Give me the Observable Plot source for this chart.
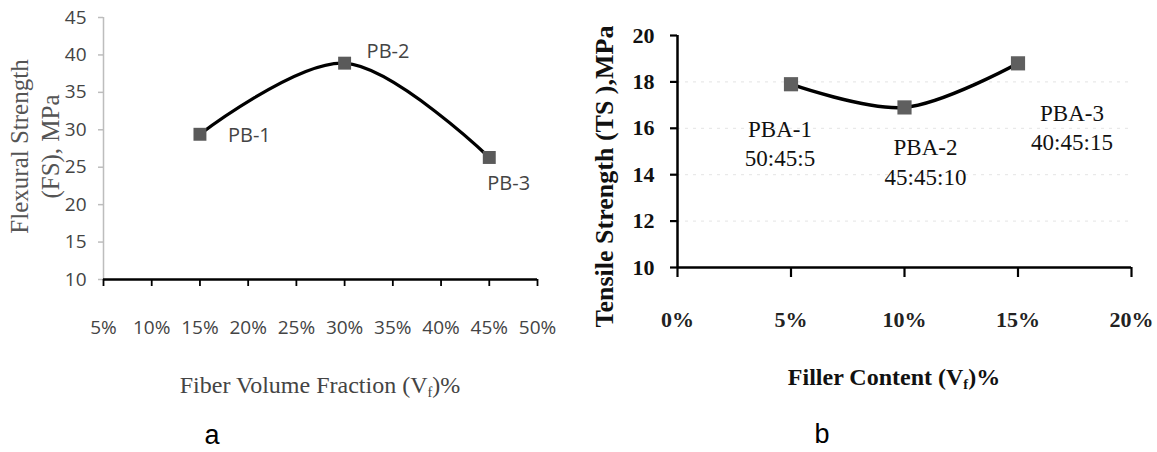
<!DOCTYPE html>
<html>
<head>
<meta charset="utf-8">
<script src="https://cdn.jsdelivr.net/npm/d3@7"></script>
<script src="https://cdn.jsdelivr.net/npm/@observablehq/plot@0.6"></script>
<style>
  html, body { margin: 0; padding: 0; background: #ffffff; }
  #wrap { position: relative; width: 1157px; height: 452px; }
  .panel { position: absolute; top: 0; }
  .xt { position: absolute; text-align: center; white-space: nowrap; }
  .xt sub { font-size: 0.6em; vertical-align: -0.25em; }
  .cap { position: absolute; text-align: center; font-family: "Liberation Sans", Arial, sans-serif; font-size: 27px; color: #000; }
</style>
</head>
<body>
<div id="wrap">
  <div id="panelA" class="panel" style="left:0px;"></div>
  <div id="panelB" class="panel" style="left:580px;"></div>
  <div class="xt" style="left:120px;width:400px;top:369px;line-height:32px;font-family:'Liberation Serif',serif;font-size:24px;color:#444;">Fiber Volume Fraction (V<sub>f</sub>)%</div>
  <div class="xt" style="left:694px;width:400px;top:361px;line-height:32px;font-family:'Liberation Serif',serif;font-size:24px;font-weight:bold;color:#111;">Filler Content (V<sub>f</sub>)%</div>
  <div class="cap" style="left:162px;width:100px;top:420px;line-height:31px;">a</div>
  <div class="cap" style="left:772px;width:100px;top:419px;line-height:31px;">b</div>
</div>
<script>
// ---- Chart a data ----
const samplesA = ["PB-1", "PB-2", "PB-3"];
const fiberA = [15, 30, 45];            // Fiber volume fraction, %
const flexA = [29.4, 38.9, 26.3];       // Flexural strength, MPa
const xTicksA = [5, 10, 15, 20, 25, 30, 35, 40, 45, 50];
const yTicksA = [10, 15, 20, 25, 30, 35, 40, 45];
const yTitleA = "Flexural Strength\n(FS), MPa";

// ---- Chart b data ----
const samplesB = ["PBA-1", "PBA-2", "PBA-3"];
const ratiosB = ["50:45:5", "45:45:10", "40:45:15"];
const fillerB = [5, 10, 15];            // Filler content, %
const tensileB = [17.9, 16.9, 18.8];    // Tensile strength, MPa
const xTicksB = [0, 5, 10, 15, 20];
const yTicksB = [10, 12, 14, 16, 18, 20];
const yTitleB = "Tensile Strength (TS ),MPa";

// ---- Chart a ----
const idxA = samplesA.map((_, i) => i);
const labelOffA = [[28, 1], [22, -12], [-2, 26]];
const chartA = Plot.plot({
  width: 580,
  height: 360,
  marginLeft: 103,
  marginRight: 43,
  marginTop: 17,
  marginBottom: 81,
  x: { domain: [5, 50] },
  y: { domain: [10, 45] },
  style: { fontFamily: "'Open Sans', sans-serif", fontSize: "19px", color: "#444", background: "transparent", overflow: "visible" },
  marks: [
    Plot.axisY({ ticks: yTicksA, tickSize: 5, tickPadding: 12, stroke: "#bdbdbd", strokeWidth: 1.5, fill: "#444", fontSize: 19, label: null }),
    Plot.axisX({ ticks: xTicksA, tickFormat: d => d + "%", tickSize: 7, tickPadding: 34, stroke: "#000", strokeWidth: 1.8, fill: "#444", fontSize: 19, label: null }),
    Plot.ruleX([xTicksA[0]], { stroke: "#bdbdbd", strokeWidth: 1.5 }),
    Plot.ruleY([yTicksA[0]], { stroke: "#000", strokeWidth: 2.5 }),
    Plot.line(idxA, { x: i => fiberA[i], y: i => flexA[i], curve: "catmull-rom", stroke: "#000", strokeWidth: 3.2 }),
    Plot.dot(idxA, { x: i => fiberA[i], y: i => flexA[i], symbol: "square", r: 7.3, fill: "#5a5a5a" }),
    ...idxA.map(i => Plot.text([i], {
      x: j => fiberA[j], y: j => flexA[j], text: j => samplesA[j],
      textAnchor: "start", dx: labelOffA[i][0], dy: labelOffA[i][1],
      fontSize: 20, fill: "#444"
    })),
    Plot.text([yTitleA], { frameAnchor: "left", textAnchor: "middle", lineAnchor: "middle", rotate: -90, dx: -70, dy: -2, fontFamily: "'Liberation Serif', serif", fontSize: 25, lineHeight: 1.25, fill: "#555" })
  ]
});
document.getElementById("panelA").appendChild(chartA);

// ---- Chart b ----
const idxB = samplesB.map((_, i) => i);
const labelOffB = [[-11, 58], [21, 53], [54, 63]];
const chartB = Plot.plot({
  width: 577,
  height: 360,
  marginLeft: 97,
  marginRight: 26,
  marginTop: 35,
  marginBottom: 93,
  x: { domain: [0, 20] },
  y: { domain: [10, 20] },
  style: { fontFamily: "'Liberation Serif', serif", fontSize: "22px", color: "#111", background: "transparent", overflow: "visible" },
  marks: [
    Plot.ruleY(yTicksB.slice(1, -1), { stroke: "#e4e4e4", strokeWidth: 1, strokeDasharray: "3,5" }),
    Plot.axisY({ ticks: yTicksB, tickSize: 7, tickPadding: 16, stroke: "#000", strokeWidth: 2.2, fill: "#111", fontSize: 22, fontWeight: "bold", label: null }),
    Plot.axisX({ ticks: xTicksB, tickFormat: d => d + "%", tickSize: 10, tickPadding: 34, stroke: "#000", strokeWidth: 2.2, fill: "#222", fontSize: 22, fontWeight: "bold", label: null }),
    Plot.ruleX([xTicksB[0]], { stroke: "#000", strokeWidth: 2.5 }),
    Plot.ruleY([yTicksB[0]], { stroke: "#000", strokeWidth: 2.5 }),
    Plot.line(idxB, { x: i => fillerB[i], y: i => tensileB[i], curve: "catmull-rom", stroke: "#000", strokeWidth: 3.5 }),
    Plot.dot(idxB, { x: i => fillerB[i], y: i => tensileB[i], symbol: "square", r: 8, fill: "#5f5f5f" }),
    ...idxB.map(i => Plot.text([i], {
      x: j => fillerB[j], y: j => tensileB[j], text: j => samplesB[j] + "\n" + ratiosB[j],
      textAnchor: "middle", lineAnchor: "middle", dx: labelOffB[i][0], dy: labelOffB[i][1],
      fontSize: 23, lineHeight: 1.28, fill: "#111"
    })),
    Plot.text([yTitleB], { frameAnchor: "left", textAnchor: "middle", lineAnchor: "middle", rotate: -90, dx: -73, dy: 25, fontFamily: "'Liberation Serif', serif", fontSize: 26, fontWeight: "bold", fill: "#111" })
  ]
});
document.getElementById("panelB").appendChild(chartB);
</script>
</body>
</html>
